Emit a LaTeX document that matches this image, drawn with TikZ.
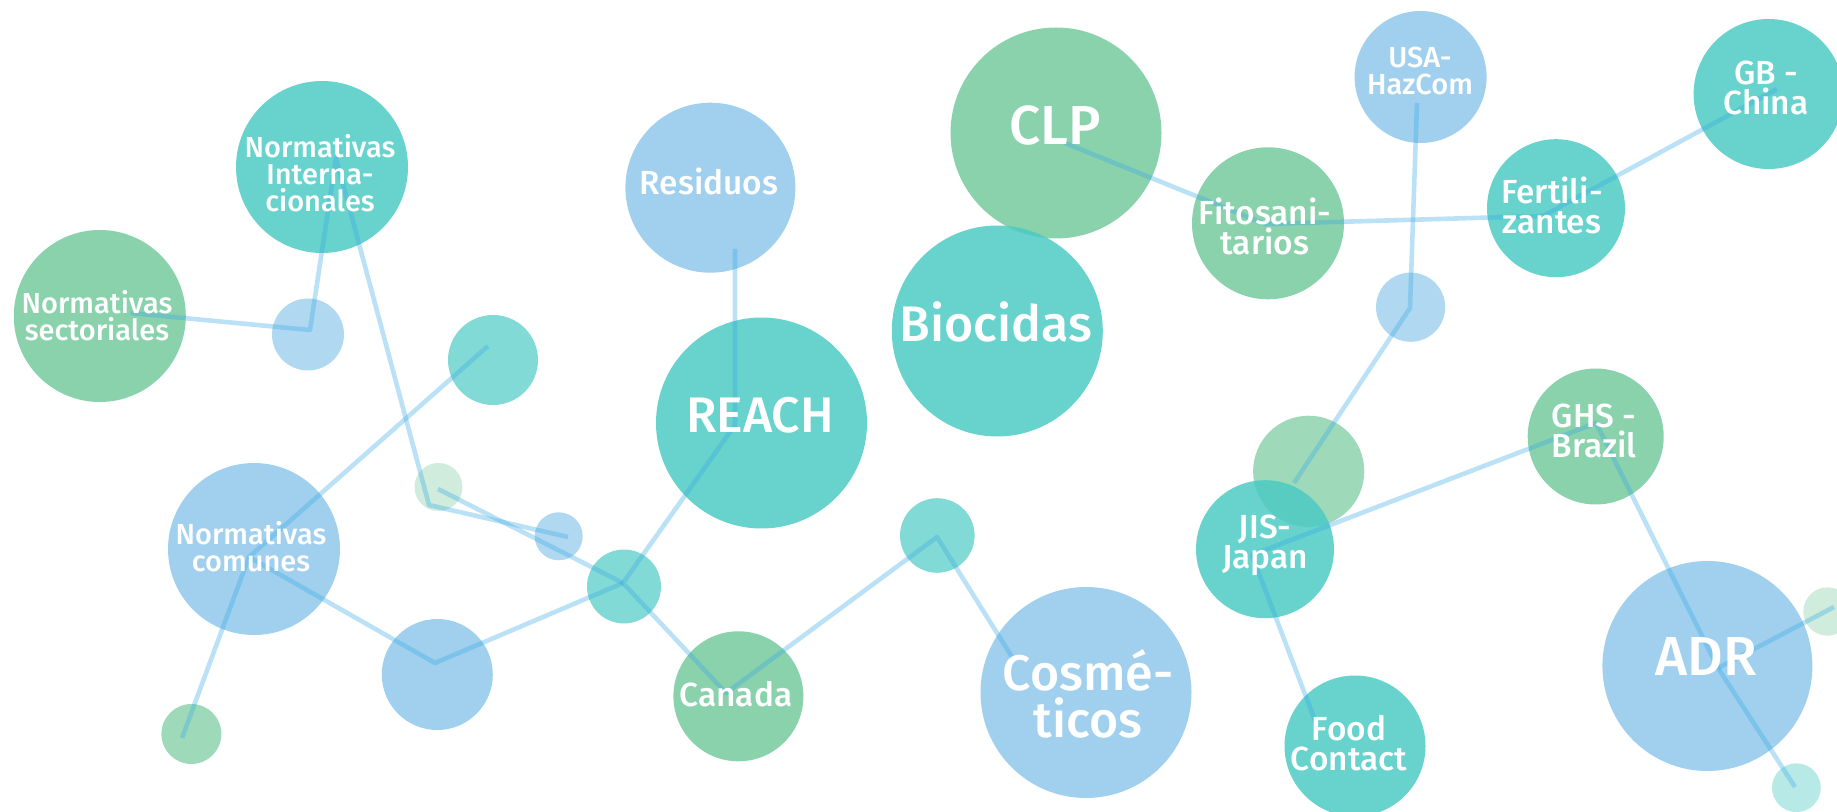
\documentclass[tikz,border=0pt]{standalone}
\usepackage{fontspec}
\IfFontExistsTF{Fira Sans Medium}
  {\setmainfont{Fira Sans Medium}}
  {\IfFontExistsTF{Fira Sans SemiBold}
    {\setmainfont{Fira Sans SemiBold}}
    {\setmainfont{Fira Sans}}}

\definecolor{tealball}{RGB}{76,203,195}
\definecolor{greenball}{RGB}{117,202,157}
\definecolor{blueball}{RGB}{143,200,235}
\definecolor{linkblue}{RGB}{60,170,230}

\tikzset{every picture/.style={line width=0.75pt}}
\tikzset{
  ball/.style 2 args={circle, inner sep=0pt, draw=none, fill=#1, fill opacity=#2},
  link/.style={draw=linkblue, draw opacity=0.35, line width=2.3pt, line join=round},
  lbl/.style={text=white, align=center, inner sep=0pt},
  smalltxt/.style={font=\fontsize{14.5}{13.5}\selectfont},
  midtxt/.style={font=\fontsize{16.7}{15}\selectfont},
  bigtxt/.style={font=\fontsize{25}{23.5}\selectfont},
}

\begin{document}
\begin{tikzpicture}[x=0.5pt,y=0.5pt,yscale=-1,xscale=1]
\useasboundingbox (0,0) rectangle (1837,812);
\clip (0,0) rectangle (1837,812);

%Shape: Circles
\node [ball={tealball}{0.85}, minimum size=86pt] (cint) at (322,167) {};
\node [ball={greenball}{0.85}, minimum size=86pt] (csect) at (99.8,316) {};
\node [ball={blueball}{0.7}, minimum size=36pt] (cbla) at (308,334.5) {};
\node [ball={tealball}{0.7}, minimum size=45pt] (ctla) at (493,360) {};
\node [ball={blueball}{0.85}, minimum size=86pt] (ccom) at (254,549) {};
\node [ball={greenball}{0.7}, minimum size=30pt] (cgra) at (191.4,734) {};
\node [ball={blueball}{0.85}, minimum size=55.5pt] (cblb) at (437.3,674.5) {};
\node [ball={greenball}{0.35}, minimum size=24pt] (cpga) at (438.5,487) {};
\node [ball={blueball}{0.7}, minimum size=24pt] (cblc) at (558.7,536.3) {};
\node [ball={tealball}{0.7}, minimum size=37pt] (chub) at (624,586.5) {};
\node [ball={blueball}{0.85}, minimum size=85pt] (cres) at (710.4,187.7) {};
\node [ball={tealball}{0.85}, minimum size=105.5pt] (creach) at (761.5,423) {};
\node [ball={greenball}{0.85}, minimum size=105.5pt] (cclp) at (1056,133) {};
\node [ball={tealball}{0.85}, minimum size=105.5pt] (cbio) at (997.3,331) {};
\node [ball={tealball}{0.7}, minimum size=37.3pt] (ctlb) at (937.3,535.5) {};
\node [ball={greenball}{0.85}, minimum size=65pt] (ccan) at (738.4,696.3) {};
\node [ball={blueball}{0.85}, minimum size=105.5pt] (ccos) at (1086,692.5) {};
\node [ball={greenball}{0.85}, minimum size=76pt] (cfito) at (1268,223.3) {};
\node [ball={blueball}{0.85}, minimum size=66pt] (cusa) at (1420.6,77) {};
\node [ball={tealball}{0.85}, minimum size=69pt] (cfert) at (1556,208.2) {};
\node [ball={tealball}{0.85}, minimum size=75pt] (cgb) at (1768.6,94) {};
\node [ball={blueball}{0.7}, minimum size=34.6pt] (cbld) at (1410.6,307.2) {};
\node [ball={greenball}{0.85}, minimum size=68pt] (cghs) at (1595.7,436.5) {};
\node [ball={greenball}{0.7}, minimum size=55.6pt] (cpgb) at (1308.7,471.3) {};
\node [ball={tealball}{0.85}, minimum size=69pt] (cjis) at (1265,549.2) {};
\node [ball={tealball}{0.85}, minimum size=70.5pt] (cfood) at (1355,746) {};
\node [ball={blueball}{0.85}, minimum size=105pt] (cadr) at (1707.4,666) {};
\node [ball={greenball}{0.35}, minimum size=24.2pt] (cpgc) at (1827.5,611.5) {};
\node [ball={tealball}{0.4}, minimum size=24.4pt] (cpt) at (1796.4,787.7) {};

% Line ends
\coordinate (psect) at (130.5,313);
\coordinate (pbla) at (310,330);
\coordinate (pint) at (336,158);
\coordinate (ppga) at (429,505);
\coordinate (ppgb) at (438,489);
\coordinate (pblc) at (568,537);
\coordinate (ptla) at (488,346);
\coordinate (pcom) at (249,557);
\coordinate (pgra) at (182,738);
\coordinate (pblb) at (435,663);
\coordinate (phub) at (623,583);
\coordinate (pres) at (735,249);
\coordinate (preach) at (735,425);
\coordinate (pcan) at (726,693);
\coordinate (ptlb) at (937,537);
\coordinate (pcos) at (1012,657);
\coordinate (pclp) at (1065,143);
\coordinate (pfito) at (1265,224);
\coordinate (pfert) at (1543,216);
\coordinate (pgb) at (1777,89);
\coordinate (pusa) at (1417,103);
\coordinate (pbld) at (1410,308);
\coordinate (ppgc) at (1294,483);
\coordinate (pghs) at (1596,423);
\coordinate (pjis) at (1252,555);
\coordinate (pfood) at (1316,723);
\coordinate (padr) at (1718,668);
\coordinate (ppt) at (1795,787);
\coordinate (pright) at (1834,607);

%Straight Lines
\draw [link] (psect) -- (pbla) -- (pint) -- (ppga) -- (pblc);
\draw [link] (ptla) -- (pcom) -- (pgra);
\draw [link] (pcom) -- (pblb) -- (phub);
\draw [link] (ppgb) -- (phub);
\draw [link] (pres) -- (preach) -- (phub) -- (pcan) -- (ptlb) -- (pcos);
\draw [link] (pclp) -- (pfito) -- (pfert) -- (pgb);
\draw [link] (pusa) -- (pbld) -- (ppgc);
\draw [link] (pfood) -- (pjis) -- (pghs) -- (padr) -- (ppt);
\draw [link] (pright) -- (padr);

% Text Node
\node [lbl, smalltxt] (lint) at (320,173) {Normativas\\Interna-\\cionales};
\node [lbl, smalltxt] (lsect) at (97,316) {Normativas\\sectoriales};
\node [lbl, smalltxt] (lcom) at (251,547) {Normativas\\comunes};
\node [lbl, midtxt] (lres) at (709,181) {Residuos};
\node [lbl, bigtxt] (lreach) at (760,415) {REACH};
\node [lbl, font=\fontsize{27.5}{24}\selectfont] (lclp) at (1055,126) {CLP};
\node [lbl, bigtxt] (lbio) at (996,322) {Biocidas};
\node [lbl, midtxt] (lfito) at (1265,226) {Fitosani-\\tarios};
\node [lbl, midtxt] (lfert) at (1552,205) {Fertili-\\zantes};
\node [lbl, smalltxt] (lusa) at (1420,70.5) {USA-\\HazCom};
\node [lbl, midtxt] (lgb) at (1766,87.5) {GB -\\China};
\node [lbl, midtxt] (lghs) at (1594,430.5) {GHS -\\Brazil};
\node [lbl, midtxt] (ljis) at (1265,545) {JIS-\\Japan};
\node [lbl, midtxt] (lfood) at (1349,743.5) {Food\\Contact};
\node [lbl, font=\fontsize{27.5}{24}\selectfont] (ladr) at (1706,656) {ADR};
\node [lbl, midtxt] (lcan) at (736,694) {Canada};
\node [lbl, bigtxt] (lcos) at (1088,694) {Cosmé-\\ticos};

\end{tikzpicture}
\end{document}
